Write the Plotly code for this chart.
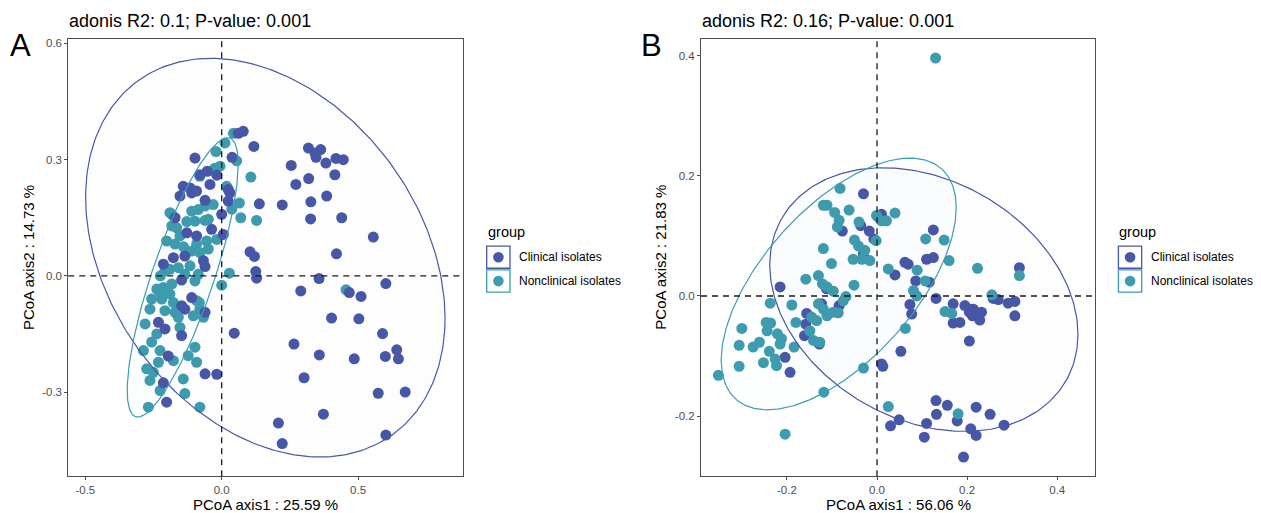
import numpy as np
import plotly.graph_objects as go

# ---------------- data ----------------
groups = ["Clinical isolates", "Nonclinical isolates"]
colors = {"Clinical isolates": "#4857A7", "Nonclinical isolates": "#3E9CB0"}

titleA = "adonis R2: 0.1; P-value: 0.001"
titleB = "adonis R2: 0.16; P-value: 0.001"
xlabA = "PCoA axis1 : 25.59 %"
ylabA = "PCoA axis2 : 14.73 %"
xlabB = "PCoA axis1 : 56.06 %"
ylabB = "PCoA axis2 : 21.83 %"

A_clin_x = [0.061, 0.079, 0.118, 0.318, 0.342, 0.363, 0.346, 0.382, 0.419, 0.446,
            0.255, 0.415, 0.319, 0.272, 0.385, 0.138, 0.222, 0.327, 0.326, 0.440,
            0.556, 0.104, 0.120, 0.421, 0.125, 0.128, 0.357, 0.602, 0.290, 0.468,
            0.511, 0.403, 0.503, 0.046, 0.590, 0.265, 0.358, 0.486, 0.642, 0.600,
            0.648, 0.302, -0.061, -0.018, 0.574, 0.673, 0.373, 0.208, 0.222, 0.602,
            0.000, 0.006, 0.038, 0.024, 0.030, 0.024, -0.037, -0.098, -0.080, -0.053,
            -0.018, -0.043, -0.141, -0.116, -0.092, -0.110, -0.153, -0.061, -0.171, -0.128,
            -0.092, -0.177, -0.214, -0.135, -0.067, -0.061, -0.147, -0.110, -0.147, -0.135,
            -0.061, -0.232, -0.208, -0.147, -0.196, -0.214, -0.202]
A_clin_y = [0.368, 0.373, 0.334, 0.330, 0.317, 0.326, 0.306, 0.291, 0.303, 0.300,
            0.285, 0.261, 0.251, 0.236, 0.206, 0.186, 0.183, 0.191, 0.147, 0.150,
            0.100, 0.062, 0.050, 0.057, 0.011, -0.006, -0.007, -0.020, -0.039, -0.043,
            -0.053, -0.109, -0.111, -0.148, -0.149, -0.176, -0.204, -0.214, -0.191, -0.208,
            -0.214, -0.263, -0.253, -0.254, -0.303, -0.300, -0.357, -0.380, -0.433, -0.411,
            0.159, 0.107, 0.306, 0.223, 0.214, 0.193, 0.120, 0.304, 0.261, 0.270,
            0.260, 0.236, 0.231, 0.227, 0.219, 0.214, 0.206, 0.195, 0.150, 0.111,
            0.103, 0.047, 0.030, 0.051, 0.039, 0.024, -0.011, -0.056, -0.077, -0.086,
            -0.094, -0.120, -0.137, -0.154, -0.207, -0.276, -0.326]

A_non_x = [0.043, 0.055, 0.107, 0.065, 0.070, 0.128, 0.037, 0.012, -0.021, 0.028,
           0.000, 0.456, -0.006, -0.025, 0.018, -0.061, -0.031, -0.110, -0.086, -0.190,
           -0.098, -0.061, -0.165, -0.153, -0.202, -0.171, -0.092, -0.055, -0.049, -0.110,
           -0.080, -0.018, -0.190, -0.159, -0.116, -0.086, -0.214, -0.183, -0.238, -0.135,
           -0.183, -0.208, -0.208, -0.226, -0.190, -0.257, -0.220, -0.177, -0.263, -0.208,
           -0.171, -0.159, -0.104, -0.080, -0.092, -0.281, -0.238, -0.257, -0.153, -0.287,
           -0.226, -0.098, -0.123, -0.092, -0.177, -0.232, -0.275, -0.251, -0.263, -0.226,
           -0.141, -0.135, -0.269, -0.080, -0.080, -0.183, -0.049, -0.128, -0.140, -0.098,
           -0.082, -0.067, -0.225]
A_non_y = [0.368, 0.297, 0.255, 0.188, 0.150, 0.143, 0.172, 0.343, 0.321, 0.007,
           -0.024, -0.036, 0.283, 0.278, 0.231, 0.180, 0.184, 0.167, 0.171, 0.163,
           0.141, 0.143, 0.124, 0.103, 0.090, 0.082, 0.082, 0.090, 0.069, 0.064,
           0.060, 0.094, 0.017, 0.021, 0.026, 0.004, -0.030, -0.021, -0.034, 0.004,
           0.129, 0.013, -0.034, -0.043, -0.047, -0.060, -0.060, -0.069, -0.086, -0.090,
           -0.094, -0.107, -0.103, -0.086, -0.064, -0.124, -0.150, -0.171, -0.133, -0.193,
           -0.193, -0.184, -0.206, -0.223, -0.219, -0.223, -0.240, -0.249, -0.270, -0.296,
           -0.266, -0.304, -0.339, -0.339, 0.257, 0.159, 0.146, 0.140, 0.075, -0.013,
           -0.069, -0.107, 0.000]

B_clin_x = [-0.030, 0.010, 0.002, -0.036, -0.017, -0.077, -0.007, -0.030, 0.125, 0.110,
            0.125, 0.062, 0.069, 0.040, 0.086, 0.116, 0.131, 0.073, 0.077, 0.169,
            0.195, 0.206, 0.212, 0.205, 0.214, 0.232, 0.228, 0.169, 0.184, 0.205,
            0.258, 0.269, 0.291, 0.306, 0.306, 0.316, 0.053, 0.010, 0.013, -0.215,
            -0.156, -0.158, -0.161, -0.128, -0.123, -0.084, -0.112, -0.204, -0.193, 0.131,
            0.156, 0.132, 0.220, 0.251, 0.049, 0.030, 0.110, 0.178, 0.208, 0.220,
            0.282, 0.105, 0.192]
B_clin_y = [0.170, 0.136, 0.132, 0.117, 0.108, 0.108, 0.095, 0.070, 0.110, 0.061,
            0.064, 0.056, 0.053, 0.035, 0.025, 0.023, -0.004, -0.014, -0.030, -0.013,
            -0.016, -0.022, -0.033, -0.027, -0.022, -0.027, -0.040, -0.045, -0.044, -0.075,
            -0.004, -0.006, -0.012, -0.009, -0.033, 0.047, -0.092, -0.113, -0.117, 0.015,
            -0.029, -0.047, -0.066, -0.080, -0.013, -0.016, 0.012, -0.102, -0.127, -0.174,
            -0.182, -0.197, -0.185, -0.197, -0.206, -0.216, -0.212, -0.208, -0.221, -0.232,
            -0.215, -0.235, -0.268]

B_non_x = [0.130, -0.352, -0.204, -0.118, -0.030, 0.025, 0.180, 0.063, -0.306, -0.306,
           -0.300, -0.275, -0.261, -0.252, -0.239, -0.223, -0.226, -0.246, -0.236, -0.244,
           -0.221, -0.212, -0.215, -0.237, -0.189, -0.180, -0.184, -0.158, -0.130, -0.121,
           -0.111, -0.097, -0.119, -0.101, -0.051, -0.082, -0.119, -0.111, -0.094, -0.084,
           -0.088, -0.062, -0.040, -0.050, -0.041, -0.027, -0.053, -0.034, -0.016, -0.002,
           -0.001, 0.010, 0.021, 0.040, 0.025, 0.108, 0.149, 0.160, 0.089, 0.223,
           0.081, 0.088, 0.107, 0.151, 0.166, 0.255, 0.316, -0.075, -0.069, -0.130,
           -0.119, -0.111, -0.097, -0.086, -0.145, -0.134, -0.149, -0.141, -0.127]
B_non_y = [0.396, -0.132, -0.230, -0.160, -0.120, -0.184, -0.196, -0.054, -0.117, -0.082,
           -0.054, -0.085, -0.077, -0.111, -0.092, -0.116, -0.105, -0.044, -0.045, -0.058,
           -0.063, -0.071, -0.080, -0.012, -0.015, -0.044, -0.085, 0.028, 0.034, 0.020,
           0.015, 0.008, 0.079, 0.054, 0.018, 0.179, 0.151, 0.151, 0.139, 0.126,
           0.115, 0.143, 0.123, 0.093, 0.083, 0.076, 0.061, 0.061, 0.059, 0.092,
           0.134, 0.125, 0.125, 0.138, 0.045, 0.095, 0.093, 0.059, 0.043, 0.046,
           0.009, 0.000, 0.025, -0.026, -0.029, 0.002, 0.034, -0.008, -0.001, -0.013,
           -0.022, -0.033, -0.027, -0.028, -0.035, -0.041, -0.058, -0.074, -0.077]

# confidence ellipses: centre, half extents, correlation
ell_A = {"Clinical isolates": (0.160, 0.047, 0.659, 0.5145, -0.304),
         "Nonclinical isolates": (-0.143, -0.004, 0.2035, 0.3605, 0.810)}
ell_B = {"Clinical isolates": (0.104, -0.006, 0.342, 0.2193, -0.264),
         "Nonclinical isolates": (-0.085, 0.020, 0.2608, 0.2094, 0.606)}

A_xticks = [-0.5, 0.0, 0.5]
A_yticks = [-0.3, 0.0, 0.3, 0.6]
B_xticks = [-0.2, 0.0, 0.2, 0.4]
B_yticks = [-0.2, 0.0, 0.2, 0.4]

# ---------------- layout helpers ----------------
W, H = 1261, 513
FONT = "Liberation Sans, Arial, sans-serif"


def px(x):
    return x / W


def py(y):
    return 1 - y / H


def fill_rgba(hex_color, a):
    h = hex_color.lstrip("#")
    r, g, b = int(h[0:2], 16), int(h[2:4], 16), int(h[4:6], 16)
    return f"rgba({r},{g},{b},{a})"


def ellipse(cx, cy, sx, sy, r, n=300):
    t = np.linspace(0, 2 * np.pi, n)
    x = cx + sx * np.cos(t)
    y = cy + sy * (r * np.cos(t) + np.sqrt(1 - r * r) * np.sin(t))
    return x, y


def ticktext(vals):
    return [f"{v:.1f}" for v in vals]


fig = go.Figure()

panels = [
    dict(xa="x", ya="y",
         pts={"Clinical isolates": (A_clin_x, A_clin_y), "Nonclinical isolates": (A_non_x, A_non_y)},
         order=["Nonclinical isolates", "Clinical isolates"], ell=ell_A),
    dict(xa="x2", ya="y2",
         pts={"Clinical isolates": (B_clin_x, B_clin_y), "Nonclinical isolates": (B_non_x, B_non_y)},
         order=["Clinical isolates", "Nonclinical isolates"], ell=ell_B),
]

for p in panels:
    for g in p["order"]:
        xs, ys = p["pts"][g]
        fig.add_trace(go.Scatter(x=xs, y=ys, mode="markers", xaxis=p["xa"], yaxis=p["ya"],
                                 marker=dict(size=11, color=colors[g], line=dict(width=0)),
                                 name=g, showlegend=False))
    for g in groups:
        ex, ey = ellipse(*p["ell"][g])
        fig.add_trace(go.Scatter(x=ex, y=ey, mode="lines", xaxis=p["xa"], yaxis=p["ya"],
                                 fill="toself", fillcolor=fill_rgba(colors[g], 0.012),
                                 line=dict(color=colors[g], width=1.2),
                                 hoverinfo="skip", showlegend=False))

axis_common = dict(showgrid=False, zeroline=False, showline=True, mirror=True,
                   linecolor="#4d4d4d", linewidth=1, ticks="outside", ticklen=3,
                   tickcolor="#4d4d4d", tickwidth=1,
                   tickfont=dict(family=FONT, size=11.5, color="#4d4d4d"))

ydom = [1 - 476 / H, 1 - 37.3 / H]
fig.update_layout(
    width=W, height=H, margin=dict(l=0, r=0, t=0, b=0),
    paper_bgcolor="white", plot_bgcolor="white",
    font=dict(family=FONT),
    xaxis=dict(domain=[px(68.3), px(463.3)], range=[-0.5625, 0.886], anchor="y",
               tickvals=A_xticks, ticktext=ticktext(A_xticks), **axis_common),
    yaxis=dict(domain=ydom, range=[-0.517, 0.611], anchor="x",
               tickvals=A_yticks, ticktext=ticktext(A_yticks), **axis_common),
    xaxis2=dict(domain=[px(701), px(1095)], range=[-0.3906, 0.4838], anchor="y2",
                tickvals=B_xticks, ticktext=ticktext(B_xticks), **axis_common),
    yaxis2=dict(domain=ydom, range=[-0.2998, 0.4274], anchor="x2",
                tickvals=B_yticks, ticktext=ticktext(B_yticks), **axis_common),
)

shapes = []
for xa, ya in [("x", "y"), ("x2", "y2")]:
    shapes.append(dict(type="line", xref=xa, yref=f"{ya} domain", x0=0, x1=0, y0=0, y1=1,
                       line=dict(color="#1a1a1a", width=1.3, dash="6px,5px"), layer="above"))
    shapes.append(dict(type="line", xref=f"{xa} domain", yref=ya, x0=0, x1=1, y0=0, y1=0,
                       line=dict(color="#1a1a1a", width=1.3, dash="6px,5px"), layer="above"))

annotations = []
# panel letters, titles, axis titles
for letter, lx, title, tx, xl, yl, pl, pr, ylx in [
        ("A", 20.5, titleA, 68.3, xlabA, ylabA, 68.3, 463.3, 28.3),
        ("B", 651, titleB, 701, xlabB, ylabB, 701, 1095, 661)]:
    annotations.append(dict(text=letter, x=px(lx), y=py(43.5), xref="paper", yref="paper",
                            showarrow=False, xanchor="center", yanchor="middle",
                            font=dict(family=FONT, size=31, color="black")))
    annotations.append(dict(text=title, x=px(tx - 1), y=py(19), xref="paper", yref="paper",
                            showarrow=False, xanchor="left", yanchor="middle",
                            font=dict(family=FONT, size=18, color="black")))
    annotations.append(dict(text=xl, x=px((pl + pr) / 2), y=py(504), xref="paper", yref="paper",
                            showarrow=False, xanchor="center", yanchor="middle",
                            font=dict(family=FONT, size=15, color="black")))
    annotations.append(dict(text=yl, x=px(ylx), y=py(256.7), xref="paper", yref="paper",
                            showarrow=False, xanchor="center", yanchor="middle", textangle=-90,
                            font=dict(family=FONT, size=15, color="black")))

    # legend (ggplot style keys)
    kx = pr + 23.4
    annotations.append(dict(text="group", x=px(kx - 1), y=py(230.7), xref="paper", yref="paper",
                            showarrow=False, xanchor="left", yanchor="middle",
                            font=dict(family=FONT, size=14.5, color="black")))
    for i, g in enumerate(groups):
        y0 = 245 + i * 24
        shapes.append(dict(type="rect", xref="paper", yref="paper",
                           x0=px(kx), x1=px(kx + 23.3), y0=py(y0), y1=py(y0 + 22.3),
                           line=dict(color=colors[g], width=1.3),
                           fillcolor=fill_rgba(colors[g], 0.012)))
        cx, cy, r = kx + 11.7, y0 + 11.2, 5.3
        shapes.append(dict(type="circle", xref="paper", yref="paper",
                           x0=px(cx - r), x1=px(cx + r), y0=py(cy - r), y1=py(cy + r),
                           line=dict(width=0), fillcolor=colors[g]))
        annotations.append(dict(text=g, x=px(kx + 30.6), y=py(cy), xref="paper", yref="paper",
                                showarrow=False, xanchor="left", yanchor="middle",
                                font=dict(family=FONT, size=12, color="black")))

fig.update_layout(shapes=shapes, annotations=annotations)
fig.write_html("out.html", config={"displayModeBar": False},
               post_script="document.body.style.margin='0';document.body.style.overflow='hidden';")
